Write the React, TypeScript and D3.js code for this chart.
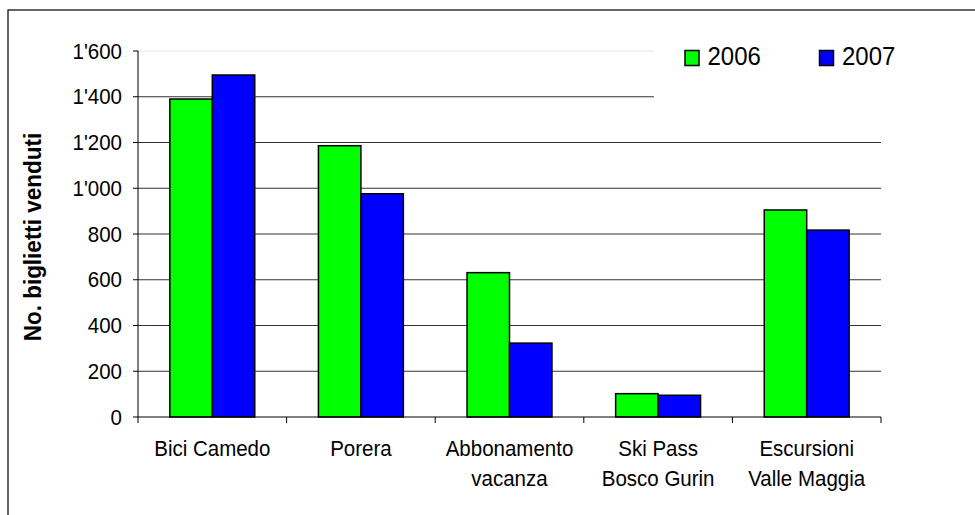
import React from 'react';
import * as d3 from 'd3';

const categories = ['Bici Camedo', 'Porera', 'Abbonamento\nvacanza', 'Ski Pass\nBosco Gurin', 'Escursioni\nValle Maggia'];
const series = ['2006', '2007'];
const values2006 = [1390, 1186, 631, 102, 905];
const values2007 = [1495, 976, 323, 95, 817];
const colors = ['#00ff00', '#0000ff'];
const yTicks = [0, 200, 400, 600, 800, 1000, 1200, 1400, 1600];
const yTitle = 'No. biglietti venduti';

const fmt = (v: number) => d3.format(',')(v).replace(/,/g, "'");

export default function App() {
  const W = 975;
  const H = 515;
  const left = 138, right = 881, top = 51, bottom = 417;
  const font = 'Arial, "Liberation Sans", sans-serif';

  const x = d3.scaleBand().domain(categories).range([left, right]).paddingInner(0).paddingOuter(0);
  const inner = d3.scaleBand().domain(series).range([0, x.bandwidth()]).paddingInner(0).paddingOuter(0.75);
  const y = d3.scaleLinear().domain([0, 1600]).range([bottom, top]);
  const data = [values2006, values2007];

  // text in the original is drawn a little taller than its width
  const stretch = 1.08;

  return (
    <svg width={W} height={H} style={{ position: 'absolute', left: 0, top: 0, background: '#fff' }} fontFamily={font}>
      <rect x={8} y={10} width={1000} height={600} fill="#fff" stroke="#000" strokeWidth={1.2} />

      {/* gridlines */}
      {yTicks.filter(t => t > 0).map(t => (
        <line key={t} x1={left} x2={right} y1={y(t)} y2={y(t)}
          stroke={t === 1600 ? '#e6e6e6' : '#333'} strokeWidth={1} />
      ))}

      {/* legend box hides gridlines */}
      <rect x={654} y={28} width={240} height={95} fill="#fff" />

      {/* bars */}
      {series.map((s, si) => categories.map((c, ci) => {
        const v = data[si][ci];
        return (
          <rect key={s + c} x={(x(c) as number) + (inner(s) as number)} y={y(v)}
            width={inner.bandwidth()} height={y(0) - y(v)}
            fill={colors[si]} stroke="#000" strokeWidth={1.5} />
        );
      }))}

      {/* y axis */}
      <line x1={left} x2={left} y1={top} y2={bottom} stroke="#000" strokeWidth={1} />
      {yTicks.map(t => (
        <g key={t}>
          <line x1={left - 5} x2={left} y1={y(t)} y2={y(t)} stroke="#000" />
          <text transform={`translate(122, ${y(t) + 7.5}) scale(1, ${stretch})`} textAnchor="end"
            fontSize={20.5} fill="#000">{fmt(t)}</text>
        </g>
      ))}
      <text transform={`translate(41, ${(top + bottom) / 2 + 3}) rotate(-90) scale(1, ${stretch})`} textAnchor="middle"
        fontSize={22.5} fontWeight="bold" fill="#000">{yTitle}</text>

      {/* x axis */}
      <line x1={left} x2={right} y1={bottom} y2={bottom} stroke="#000" strokeWidth={1} />
      {categories.map((c, i) => (
        <line key={'t' + i} x1={x(c)} x2={x(c)} y1={bottom} y2={bottom + 6} stroke="#000" />
      ))}
      <line x1={right} x2={right} y1={bottom} y2={bottom + 6} stroke="#000" />
      {categories.map(c => (
        c.split('\n').map((line, li) => (
          <text key={'l' + c + li}
            transform={`translate(${(x(c) as number) + x.bandwidth() / 2}, ${456 + li * 30}) scale(1, ${stretch})`}
            textAnchor="middle" fontSize={20.5} fill="#000">{line}</text>
        ))
      ))}

      {/* legend */}
      {series.map((s, i) => {
        const lx = 685 + i * 134.5;
        return (
          <g key={s}>
            <rect x={lx} y={50.5} width={14} height={15} fill={colors[i]} stroke="#000" strokeWidth={1.5} />
            <text transform={`translate(${lx + 22.5}, 65) scale(1, ${stretch})`} fontSize={24} fill="#000">{s}</text>
          </g>
        );
      })}
    </svg>
  );
}
